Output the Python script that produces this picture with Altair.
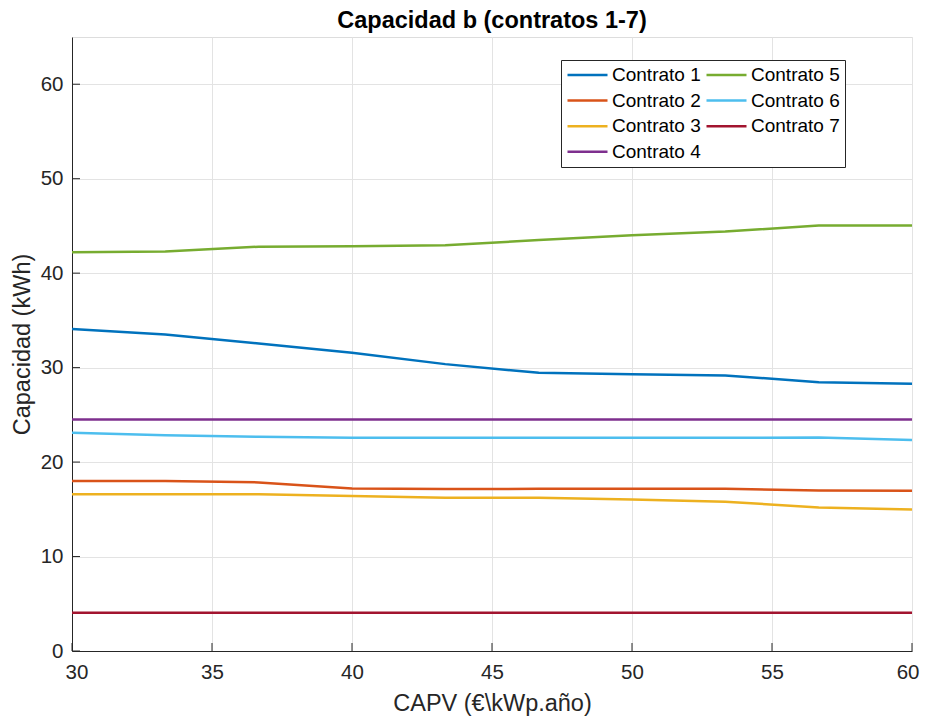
import altair as alt
import pandas as pd

x_vals = [30, 33.33, 36.67, 40, 43.33, 46.67, 50, 53.33, 56.67, 60]
contrato_1 = [34.1, 33.5, 32.55, 31.57, 30.37, 29.45, 29.3, 29.17, 28.46, 28.3]
contrato_2 = [18.0, 18.0, 17.85, 17.2, 17.14, 17.17, 17.17, 17.17, 17.0, 16.96]
contrato_3 = [16.6, 16.6, 16.6, 16.4, 16.23, 16.23, 16.05, 15.8, 15.2, 14.99]
contrato_4 = [24.5, 24.5, 24.5, 24.5, 24.5, 24.5, 24.5, 24.5, 24.5, 24.5]
contrato_5 = [42.2, 42.3, 42.8, 42.85, 42.96, 43.5, 44.0, 44.4, 45.05, 45.05]
contrato_6 = [23.1, 22.85, 22.68, 22.57, 22.57, 22.57, 22.57, 22.57, 22.6, 22.33]
contrato_7 = [4.05, 4.05, 4.05, 4.05, 4.05, 4.04, 4.04, 4.04, 4.04, 4.04]

series_names = ["Contrato 1", "Contrato 2", "Contrato 3", "Contrato 4",
                "Contrato 5", "Contrato 6", "Contrato 7"]
series_vals = [contrato_1, contrato_2, contrato_3, contrato_4,
               contrato_5, contrato_6, contrato_7]
colors = ["#0072BD", "#D95319", "#EDB120", "#7E2F8E", "#77AC30", "#4DBEEE", "#A2142F"]

x_ticks = [30, 35, 40, 45, 50, 55, 60]
y_ticks = [0, 10, 20, 30, 40, 50, 60]

rows = []
for name, vals in zip(series_names, series_vals):
    for xv, yv in zip(x_vals, vals):
        rows.append({"x": xv, "y": yv, "serie": name})
df = pd.DataFrame(rows)

W, H = 840, 614
FONT = "Liberation Sans"
DARK = "#262626"

xscale = alt.Scale(domain=[30, 60], nice=False, zero=False)
yscale = alt.Scale(domain=[0, 65], nice=False)

lines = alt.Chart(df).mark_line(strokeWidth=2.5, clip=True).encode(
    x=alt.X("x:Q", scale=xscale,
            axis=alt.Axis(title="CAPV (€\\kWp.año)", values=x_ticks, ticks=False,
                          labelFlush=True, labelFlushOffset=7,
                          labelPadding=11, labelFontSize=20.5, titleFontSize=23.5,
                          titlePadding=9, grid=True, gridColor="#e3e3e3",
                          domainColor=DARK, labelColor=DARK, titleColor=DARK,
                          titleFontWeight="normal", labelFont=FONT, titleFont=FONT)),
    y=alt.Y("y:Q", scale=yscale,
            axis=alt.Axis(title="Capacidad (kWh)", values=y_ticks, ticks=False,
                          labelFlush=False,
                          labelPadding=9, labelFontSize=20.5, titleFontSize=23.5,
                          titlePadding=6, grid=True, gridColor="#e3e3e3",
                          domainColor=DARK, labelColor=DARK, titleColor=DARK,
                          titleFontWeight="normal", labelFont=FONT, titleFont=FONT)),
    color=alt.Color("serie:N",
                    scale=alt.Scale(domain=series_names, range=colors),
                    legend=alt.Legend(title=None, orient="none", legendX=489, legendY=23,
                                      columns=2, columnPadding=4, rowPadding=5.6,
                                      clipHeight=20,
                                      symbolType="stroke", symbolSize=1600,
                                      symbolStrokeWidth=2.5, labelFontSize=19,
                                      labelFont=FONT, labelColor="#000000",
                                      labelOffset=3, padding=5,
                                      strokeColor=DARK, fillColor="#ffffff",
                                      labelLimit=200)),
    detail="serie:N",
)

xtick_df = pd.DataFrame({"x": x_ticks})
ytick_df = pd.DataFrame({"y": y_ticks})

xticks = alt.Chart(xtick_df).mark_rule(color=DARK, strokeWidth=1).encode(
    x=alt.X("x:Q", scale=xscale), y=alt.value(H), y2=alt.value(H - 8))
yticks = alt.Chart(ytick_df).mark_rule(color=DARK, strokeWidth=1).encode(
    y=alt.Y("y:Q", scale=yscale), x=alt.value(0), x2=alt.value(8))

chart = alt.layer(lines, xticks, yticks).properties(
    width=W, height=H,
    title=alt.TitleParams("Capacidad b (contratos 1-7)", fontSize=23.5, font=FONT,
                          fontWeight="bold", color="#000000", offset=5, anchor="middle"),
    autosize=alt.AutoSizeParams(type="none"),
    padding={"left": 64, "top": 29, "right": 8, "bottom": 66},
).configure_view(stroke=None).configure(background="#ffffff")

chart.save("out.html", embed_options={"renderer": "svg", "actions": False})
